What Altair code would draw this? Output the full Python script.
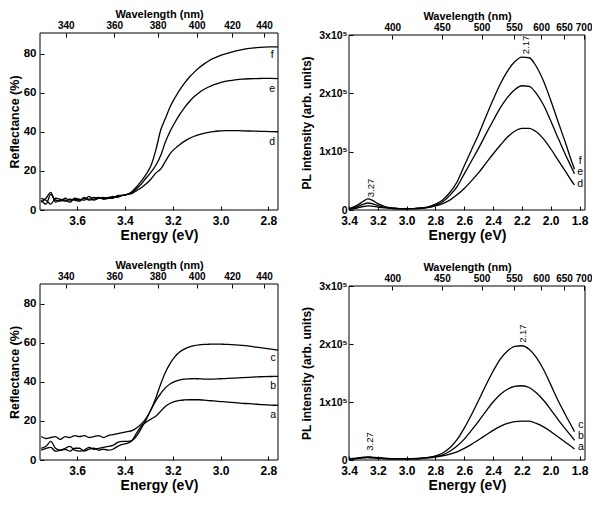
import altair as alt
import pandas as pd

HC = 1240.0  # eV*nm conversion for the wavelength axis

# ---------------- Reflectance data (energy in eV, reflectance in %) ----------------
E_R = [3.75, 3.73, 3.71, 3.69, 3.67, 3.65, 3.63, 3.61, 3.59, 3.57, 3.55, 3.53, 3.51, 3.49,
       3.47, 3.45, 3.43, 3.41, 3.39, 3.37, 3.35, 3.33, 3.31, 3.29, 3.27, 3.25, 3.23, 3.21,
       3.19, 3.17, 3.15, 3.13, 3.11, 3.09, 3.07, 3.05, 3.03, 3.01, 2.99, 2.97, 2.94, 2.91,
       2.88, 2.85, 2.82, 2.79, 2.76]

R_f = [5, 3, 8, 5, 4.5, 6, 5, 5.5, 5, 6, 5.5, 6.5, 6, 6, 6.5, 6.5, 7, 7.5,
       8, 9.5, 12, 15, 18.5, 23, 31, 41, 47, 53, 57.5, 61.5, 65, 68, 70.5, 72.7, 74.6,
       76.2, 77.5, 78.6, 79.5, 80.2, 81.2, 82, 82.6, 83, 83.3, 83.4, 83.4]
R_e = [4, 6, 9, 4, 5, 4.5, 5.5, 5, 4.5, 6.5, 5, 5.5, 6.5, 5.5, 6, 7, 6.5, 7.5,
       8, 9, 11, 13.5, 16.5, 19.5, 23, 28, 35, 40.5, 45, 49, 52.5, 55.5, 58, 60, 61.6,
       62.9, 64, 64.8, 65.5, 66, 66.5, 66.9, 67.1, 67.2, 67.3, 67.3, 67.2]
R_d = [6, 5, 3, 6, 5.5, 5, 4, 6, 5.5, 5, 7, 5, 6, 6.5, 6, 6, 7.5, 7.5,
       8, 8.5, 10, 11.5, 13.5, 16, 19, 21, 25, 29, 31.5, 33.5, 35.2, 36.6, 37.7, 38.5,
       39.2, 39.7, 40.1, 40.4, 40.5, 40.6, 40.6, 40.5, 40.4, 40.3, 40.2, 40.1, 40]

R_c = [12, 11, 11.5, 12, 10.5, 12, 11.5, 12.5, 12, 12.5, 11.5, 12, 12.5, 11.5, 12.5, 13, 13.5, 14,
       14.5, 15, 16.5, 18.5, 21.5, 26, 32, 39, 45, 49.5, 53, 55.3, 56.8, 57.8, 58.5, 58.9,
       59.1, 59.2, 59.3, 59.3, 59.2, 59.1, 58.9, 58.6, 58.2, 57.7, 57.2, 56.7, 56.2]
R_b = [6, 7, 9.5, 6, 5, 6, 7, 5, 4.5, 5, 6.5, 5.5, 6, 6.5, 7, 7.5, 9, 9.5,
       9.5, 10, 12.5, 16.5, 21, 26, 30.5, 34, 37, 39, 40.2, 41, 41.4, 41.5, 41.6, 41.5,
       41.4, 41.4, 41.4, 41.5, 41.6, 41.7, 41.9, 42.1, 42.3, 42.5, 42.6, 42.7, 42.8]
R_a = [5, 6, 6.5, 4.5, 5, 5.5, 4.5, 6, 6, 4.5, 5.5, 6, 5, 5.5, 5, 5.5, 7, 8,
       8.5, 10, 14, 17.5, 19.5, 21, 22.5, 25, 27.5, 29, 30, 30.5, 30.7, 30.8, 30.8, 30.8,
       30.6, 30.4, 30.2, 30, 29.8, 29.6, 29.3, 29, 28.8, 28.5, 28.3, 28.1, 27.9]

# ---------------- PL data (energy in eV, intensity in units of 1e5) ----------------
E_P = [3.40, 3.35, 3.30, 3.27, 3.24, 3.20, 3.15, 3.10, 3.05, 3.00, 2.95, 2.90, 2.85, 2.80,
       2.75, 2.70, 2.65, 2.60, 2.55, 2.50, 2.45, 2.40, 2.35, 2.30, 2.25, 2.20, 2.15, 2.10,
       2.05, 2.00, 1.95, 1.90, 1.85, 1.835]

P_f = [0.02, 0.07, 0.15, 0.19, 0.17, 0.11, 0.06, 0.035, 0.025, 0.022, 0.025, 0.035, 0.055, 0.10,
       0.17, 0.30, 0.48, 0.76, 1.03, 1.30, 1.60, 1.89, 2.16, 2.38, 2.54, 2.62, 2.61, 2.46,
       2.21, 1.88, 1.52, 1.17, 0.80, 0.70]
P_e = [0.02, 0.05, 0.10, 0.12, 0.11, 0.075, 0.045, 0.03, 0.022, 0.02, 0.022, 0.03, 0.045, 0.08,
       0.14, 0.25, 0.40, 0.62, 0.84, 1.06, 1.30, 1.53, 1.75, 1.93, 2.06, 2.13, 2.12, 2.00,
       1.80, 1.53, 1.24, 0.96, 0.70, 0.62]
P_d = [0.01, 0.03, 0.06, 0.07, 0.065, 0.05, 0.035, 0.025, 0.02, 0.02, 0.022, 0.03, 0.045, 0.07,
       0.11, 0.17, 0.26, 0.37, 0.50, 0.64, 0.80, 0.96, 1.11, 1.25, 1.35, 1.40, 1.40, 1.34,
       1.22, 1.05, 0.86, 0.67, 0.48, 0.43]

P_c = [0.02, 0.03, 0.05, 0.055, 0.05, 0.04, 0.03, 0.025, 0.022, 0.022, 0.025, 0.03, 0.045, 0.07,
       0.12, 0.21, 0.35, 0.55, 0.78, 1.03, 1.29, 1.53, 1.74, 1.88, 1.96, 1.97, 1.91, 1.77,
       1.56, 1.30, 1.03, 0.79, 0.56, 0.49]
P_b = [0.02, 0.025, 0.04, 0.045, 0.04, 0.03, 0.025, 0.02, 0.02, 0.02, 0.022, 0.03, 0.04, 0.06,
       0.09, 0.15, 0.24, 0.36, 0.51, 0.67, 0.84, 1.00, 1.13, 1.22, 1.27, 1.28, 1.25, 1.16,
       1.03, 0.87, 0.70, 0.54, 0.39, 0.34]
P_a = [0.02, 0.025, 0.035, 0.04, 0.035, 0.03, 0.022, 0.02, 0.018, 0.018, 0.02, 0.025, 0.035, 0.05,
       0.07, 0.10, 0.14, 0.20, 0.27, 0.35, 0.43, 0.51, 0.58, 0.63, 0.66, 0.67, 0.67, 0.63,
       0.57, 0.49, 0.40, 0.31, 0.22, 0.19]

# ---------------- axes ticks ----------------
R_XTICKS = [3.6, 3.4, 3.2, 3.0, 2.8]
R_WL = [340, 360, 380, 400, 420, 440]
R_YTICKS = [0, 20, 40, 60, 80]
P_XTICKS = [3.4, 3.2, 3.0, 2.8, 2.6, 2.4, 2.2, 2.0, 1.8]
P_WL = [400, 450, 500, 550, 600, 650, 700]
P_YTICKS = [0, 1, 2, 3]

# ---------------- curve labels & annotations ----------------
TL_lab = ["f", "e", "d"];  TL_E = [2.784, 2.784, 2.784];  TL_v = [79.5, 62, 35]
BL_lab = ["c", "b", "a"];  BL_E = [2.78, 2.78, 2.78];     BL_v = [52, 38, 22.8]
TR_lab = ["f", "e", "d"];  TR_E = [1.795, 1.795, 1.795];  TR_v = [0.84, 0.65, 0.45]
BR_lab = ["c", "b", "a"];  BR_E = [1.79, 1.79, 1.79];     BR_v = [0.60, 0.41, 0.22]
TR_pk = ["3.27", "2.17"];  TR_pkE = [3.244, 2.172];       TR_pkv = [0.22, 2.67]
BR_pk = ["3.27", "2.17"];  BR_pkE = [3.256, 2.193];       BR_pkv = [0.16, 2.02]

FONT = "Liberation Sans"
W, H = 584, 486  # whole drawing area (inside the page margin)


def long_df(E, series):
    rows = []
    for name, vals in series:
        for e, v in zip(E, vals):
            rows.append({"E": e, "v": v, "s": name})
    return pd.DataFrame(rows)


def panel(df, lab, lab_E, lab_v, pk, pk_E, pk_v, xdom, xr, xticks, wl, ydom, yr, yticks,
          ytitle, ytitle_size, ylabel_expr, ylabel_size, ylab_pad, ytitle_pad):
    xs = alt.Scale(domain=xdom, range=xr, nice=False, zero=False)
    ys = alt.Scale(domain=ydom, range=yr, nice=False, zero=False)
    nx = alt.X("E:Q", scale=xs, axis=None)
    ny = alt.Y("v:Q", scale=ys, axis=None)

    fdf = pd.DataFrame({"x0": [xdom[0]], "x1": [xdom[1]], "y0": [ydom[0]], "y1": [ydom[1]]})
    frame = alt.Chart(fdf).mark_rect(fill="white", fillOpacity=0, stroke="black",
                                     strokeWidth=1).encode(
        x=alt.X("x0:Q", scale=xs, axis=None), x2="x1:Q",
        y=alt.Y("y0:Q", scale=ys, axis=None), y2="y1:Q",
    )

    base = alt.Chart(df)
    lines = base.mark_line(color="black", strokeWidth=1.3, interpolate="monotone").encode(
        x=alt.X("E:Q", scale=xs, axis=alt.Axis(
            orient="bottom", values=xticks, format=".1f", title="Energy (eV)",
            labelFontSize=12, titleFontSize=14, labelPadding=5,
            titlePadding=2, offset=(yr[0] - 4) - H)),
        y=alt.Y("v:Q", scale=ys, axis=alt.Axis(
            orient="left", values=yticks, labelExpr=ylabel_expr, title=ytitle,
            labelFontSize=ylabel_size, titleFontSize=ytitle_size, labelPadding=ylab_pad,
            titlePadding=ytitle_pad, offset=-(xr[0] + 4))),
        detail="s:N",
    )
    top = base.mark_line(opacity=0).encode(
        x=alt.X("E:Q", scale=xs, axis=alt.Axis(
            orient="top", values=[HC / v for v in wl],
            labelExpr="format(1240/datum.value, '.0f')", title="Wavelength (nm)",
            labelFontSize=10, titleFontSize=11, labelPadding=3, titlePadding=1,
            offset=-(yr[1] + 4))),
        y=ny,
        detail="s:N",
    )
    ldf = pd.DataFrame({"E": lab_E, "v": lab_v, "t": lab})
    labels = alt.Chart(ldf).mark_text(font=FONT, fontSize=10.5, color="black").encode(
        x=nx, y=ny, text="t:N")
    layers = [frame, lines, top, labels]
    if pk:
        pdf = pd.DataFrame({"E": pk_E, "v": pk_v, "t": pk})
        peaks = alt.Chart(pdf).mark_text(font=FONT, fontSize=9.5, color="black", angle=270,
                                         align="left", baseline="middle").encode(
            x=nx, y=ny, text="t:N")
        layers.append(peaks)
    return alt.layer(*layers).resolve_axis(x="independent", y="independent")


r_expr = "format(datum.value, 'd')"
p_expr = "datum.value == 0 ? '0' : format(datum.value, 'd') + 'x10\u2075'"

# pixel ranges inside the drawing area (page coordinates minus the 8px margin)
p1 = panel(long_df(E_R, [("f", R_f), ("e", R_e), ("d", R_d)]), TL_lab, TL_E, TL_v,
           None, None, None, [3.755, 2.76], [32, 270], R_XTICKS, R_WL,
           [0, 90.5], [202, 25], R_YTICKS,
           "Reflectance (%)", 12.5, r_expr, 11.5, 4, 2)
p2 = panel(long_df(E_P, [("f", P_f), ("e", P_e), ("d", P_d)]), TR_lab, TR_E, TR_v,
           TR_pk, TR_pkE, TR_pkv, [3.4, 1.762], [341, 577], P_XTICKS, P_WL,
           [0, 3], [202, 27], P_YTICKS,
           "PL intensity (arb. units)", 12, p_expr, 10.5, 2, 5)
p3 = panel(long_df(E_R, [("c", R_c), ("b", R_b), ("a", R_a)]), BL_lab, BL_E, BL_v,
           None, None, None, [3.755, 2.76], [32, 270], R_XTICKS, R_WL,
           [0, 90], [452, 276], R_YTICKS,
           "Reflectance (%)", 12.5, r_expr, 11.5, 4, 2)
p4 = panel(long_df(E_P, [("c", P_c), ("b", P_b), ("a", P_a)]), BR_lab, BR_E, BR_v,
           BR_pk, BR_pkE, BR_pkv, [3.4, 1.762], [341, 577], P_XTICKS, P_WL,
           [0, 3], [452, 278], P_YTICKS,
           "PL intensity (arb. units)", 12, p_expr, 10.5, 2, 5)

chart = alt.layer(p1, p2, p3, p4).resolve_scale(
    x="independent", y="independent"
).resolve_axis(
    x="independent", y="independent"
).properties(
    width=W, height=H, padding=0, autosize=alt.AutoSizeParams(type="none"),
    view=alt.ViewBackground(stroke="transparent", strokeWidth=0),
).configure_view(
    stroke="transparent", strokeWidth=0
).configure(
    background="white",
    style={"cell": {"stroke": "transparent", "strokeWidth": 0}},
).configure_axis(
    labelFont=FONT, titleFont=FONT, labelFontWeight="bold", titleFontWeight="bold",
    labelColor="black", titleColor="black", tickColor="black", tickWidth=1,
    tickSize=4, domain=False, grid=False, labelOverlap=False, labelFlush=False,
    minExtent=0,
)

chart.save("out.html", embed_options={"renderer": "svg", "actions": False})
